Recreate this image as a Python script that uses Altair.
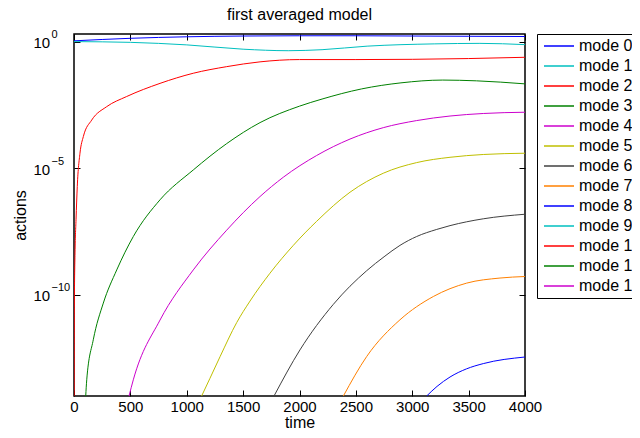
import altair as alt
import pandas as pd

modes = ["mode %d" % i for i in range(13)]
colors = ["#0000FF", "#00BFBF", "#FF0000", "#008000", "#CC00CC", "#BFBF00",
          "#404040", "#FF8000", "#0000FF", "#00BFBF", "#FF0000", "#008000", "#CC00CC"]

# time points and log10(actions)
m0_t = [0, 500, 1000, 1500, 2000, 2500, 3000, 3500, 4000]
m0_e = [0.03, 0.13, 0.19, 0.22, 0.23, 0.23, 0.22, 0.21, 0.20]

m1_t = [0, 500, 1000, 1500, 1900, 2200, 2600, 3200, 3600, 4000]
m1_e = [0.0, -0.03, -0.13, -0.30, -0.36, -0.32, -0.18, -0.09, -0.07, -0.12]

m2_t = [0, 1, 3, 9, 18, 29, 53, 83, 157, 290, 467, 763, 1058, 1354, 1650, 2000, 2500, 3000, 3500, 4000]
m2_e = [-18, -14.5, -10.5, -8.35, -7.04, -5.73, -4.41, -3.75, -3.10, -2.57, -2.17, -1.65, -1.25,
        -0.99, -0.80, -0.71, -0.71, -0.70, -0.67, -0.62]

m3_t = [104, 113, 171, 260, 379, 526, 763, 1058, 1354, 1650, 2000, 2200, 2550, 2900, 3270, 3570, 4000]
m3_e = [-14, -13.36, -11.78, -10.33, -9.02, -7.70, -6.25, -5.07, -4.03, -3.2, -2.55, -2.27,
        -1.87, -1.63, -1.52, -1.55, -1.67]

m4_t = [488, 526, 763, 1058, 1354, 1650, 1856, 2152, 2448, 2743, 3039, 3335, 3630, 4000]
m4_e = [-14, -13.36, -11.0, -9.02, -7.45, -6.12, -5.36, -4.50, -3.85, -3.40, -3.12, -2.94, -2.84, -2.79]

m5_t = [1132, 1206, 1295, 1443, 1561, 1738, 1945, 2152, 2448, 2743, 3039, 3335, 3630, 4000]
m5_e = [-14, -13.3, -12.45, -11.1, -10.25, -9.15, -8.05, -7.1, -5.95, -5.20, -4.78, -4.57, -4.46, -4.41]

m6_t = [1774, 2004, 2300, 2596, 2750, 2891, 3039, 3217, 3335, 3630, 4000]
m6_e = [-14, -12.18, -10.38, -9.05, -8.5, -8.05, -7.7, -7.42, -7.27, -7.0, -6.82]

m7_t = [2389, 2596, 2891, 3187, 3483, 3778, 4000]
m7_e = [-14, -12.44, -10.99, -10.07, -9.54, -9.34, -9.28]

m8_t = [3128, 3220, 3335, 3480, 3630, 4000]
m8_e = [-14, -13.62, -13.25, -12.93, -12.72, -12.46]

series = [(m0_t, m0_e), (m1_t, m1_e), (m2_t, m2_e), (m3_t, m3_e), (m4_t, m4_e),
          (m5_t, m5_e), (m6_t, m6_e), (m7_t, m7_e), (m8_t, m8_e)]

x_ticks = [0, 500, 1000, 1500, 2000, 2500, 3000, 3500, 4000]
y_ticks = [1e-10, 1e-5, 1.0]

rows = []
for i, (ts, es) in enumerate(series):
    for t, e in zip(ts, es):
        rows.append({"time": t, "actions": 10 ** e, "mode": modes[i]})
df = pd.DataFrame(rows)

FONT = "Liberation Sans"
xscale = alt.Scale(domain=[0, 4000], nice=False, zero=False)
yscale = alt.Scale(type="log", domain=[1e-14, 10 ** 0.3], nice=False)

exp_expr = "datum.value > 0.5 ? '0' : (datum.value > 1e-7 ? '\u22125' : '\u221210')"

lines = alt.Chart(df).mark_line(clip=True, strokeWidth=1, interpolate="monotone").encode(
    x=alt.X("time:Q", scale=xscale,
            axis=alt.Axis(title="time", values=x_ticks, format="d", grid=False, domain=False,
                          tickSize=6, offset=-6, tickColor="black", labelPadding=3,
                          labelFontSize=15, labelFont=FONT, labelColor="black",
                          titleFontSize=16, titleFont=FONT, titleFontWeight="normal",
                          titleColor="black", titlePadding=0, labelFlush=False)),
    y=alt.Y("actions:Q", scale=yscale,
            axis=alt.Axis(title="actions", values=y_ticks, labelExpr="'10'", grid=False,
                          domain=False, tickSize=6, offset=-6, tickColor="black",
                          labelPadding=41, labelAlign="left", labelOffset=1,
                          labelFontSize=15, labelFont=FONT, labelColor="black",
                          titleFontSize=16, titleFont=FONT, titleFontWeight="normal",
                          titleColor="black", titlePadding=5)),
    color=alt.Color("mode:N", scale=alt.Scale(domain=modes, range=colors),
                    legend=alt.Legend(title=None, orient="none", legendX=463, legendY=0,
                                      symbolSize=900, symbolStrokeWidth=1.5,
                                      labelFontSize=16, labelFont=FONT, labelColor="black",
                                      strokeColor="black", fillColor="white", padding=2,
                                      symbolOffset=4, rowPadding=0, clipHeight=20,
                                      labelOffset=4, labelLimit=200)),
)

ticks = alt.Chart(df).mark_line(clip=True, opacity=0).encode(
    x=alt.X("time:Q", scale=xscale,
            axis=alt.Axis(orient="top", title=None, labels=False, values=x_ticks, grid=False,
                          domain=False, tickSize=6, offset=-6, tickColor="black")),
    y=alt.Y("actions:Q", scale=yscale,
            axis=alt.Axis(orient="right", title=None, labels=False, values=y_ticks, grid=False,
                          domain=False, tickSize=6, offset=-6, tickColor="black")),
)

exponents = alt.Chart(df).mark_line(clip=True, opacity=0).encode(
    x=alt.X("time:Q", scale=xscale, axis=None),
    y=alt.Y("actions:Q", scale=yscale,
            axis=alt.Axis(orient="left", title=None, values=y_ticks, labelExpr=exp_expr,
                          grid=False, domain=False, ticks=False, tickSize=0,
                          labelPadding=23, labelAlign="left", labelBaseline="alphabetic",
                          labelOffset=-4, labelFontSize=11, labelFont=FONT, labelColor="black")),
)

chart = alt.layer(lines, ticks, exponents).resolve_axis(x="independent", y="independent").properties(
    width=451, height=362,
    title=alt.TitleParams("first averaged model", fontSize=16, fontWeight="normal", font=FONT,
                          color="black", offset=6),
    autosize=alt.AutoSizeParams(type="none"),
    padding={"left": 66, "top": 26, "right": 107, "bottom": 34},
    background="white",
).configure_view(stroke="black", strokeWidth=1.5)

chart.save("out.html", embed_options={"renderer": "svg", "actions": False})
